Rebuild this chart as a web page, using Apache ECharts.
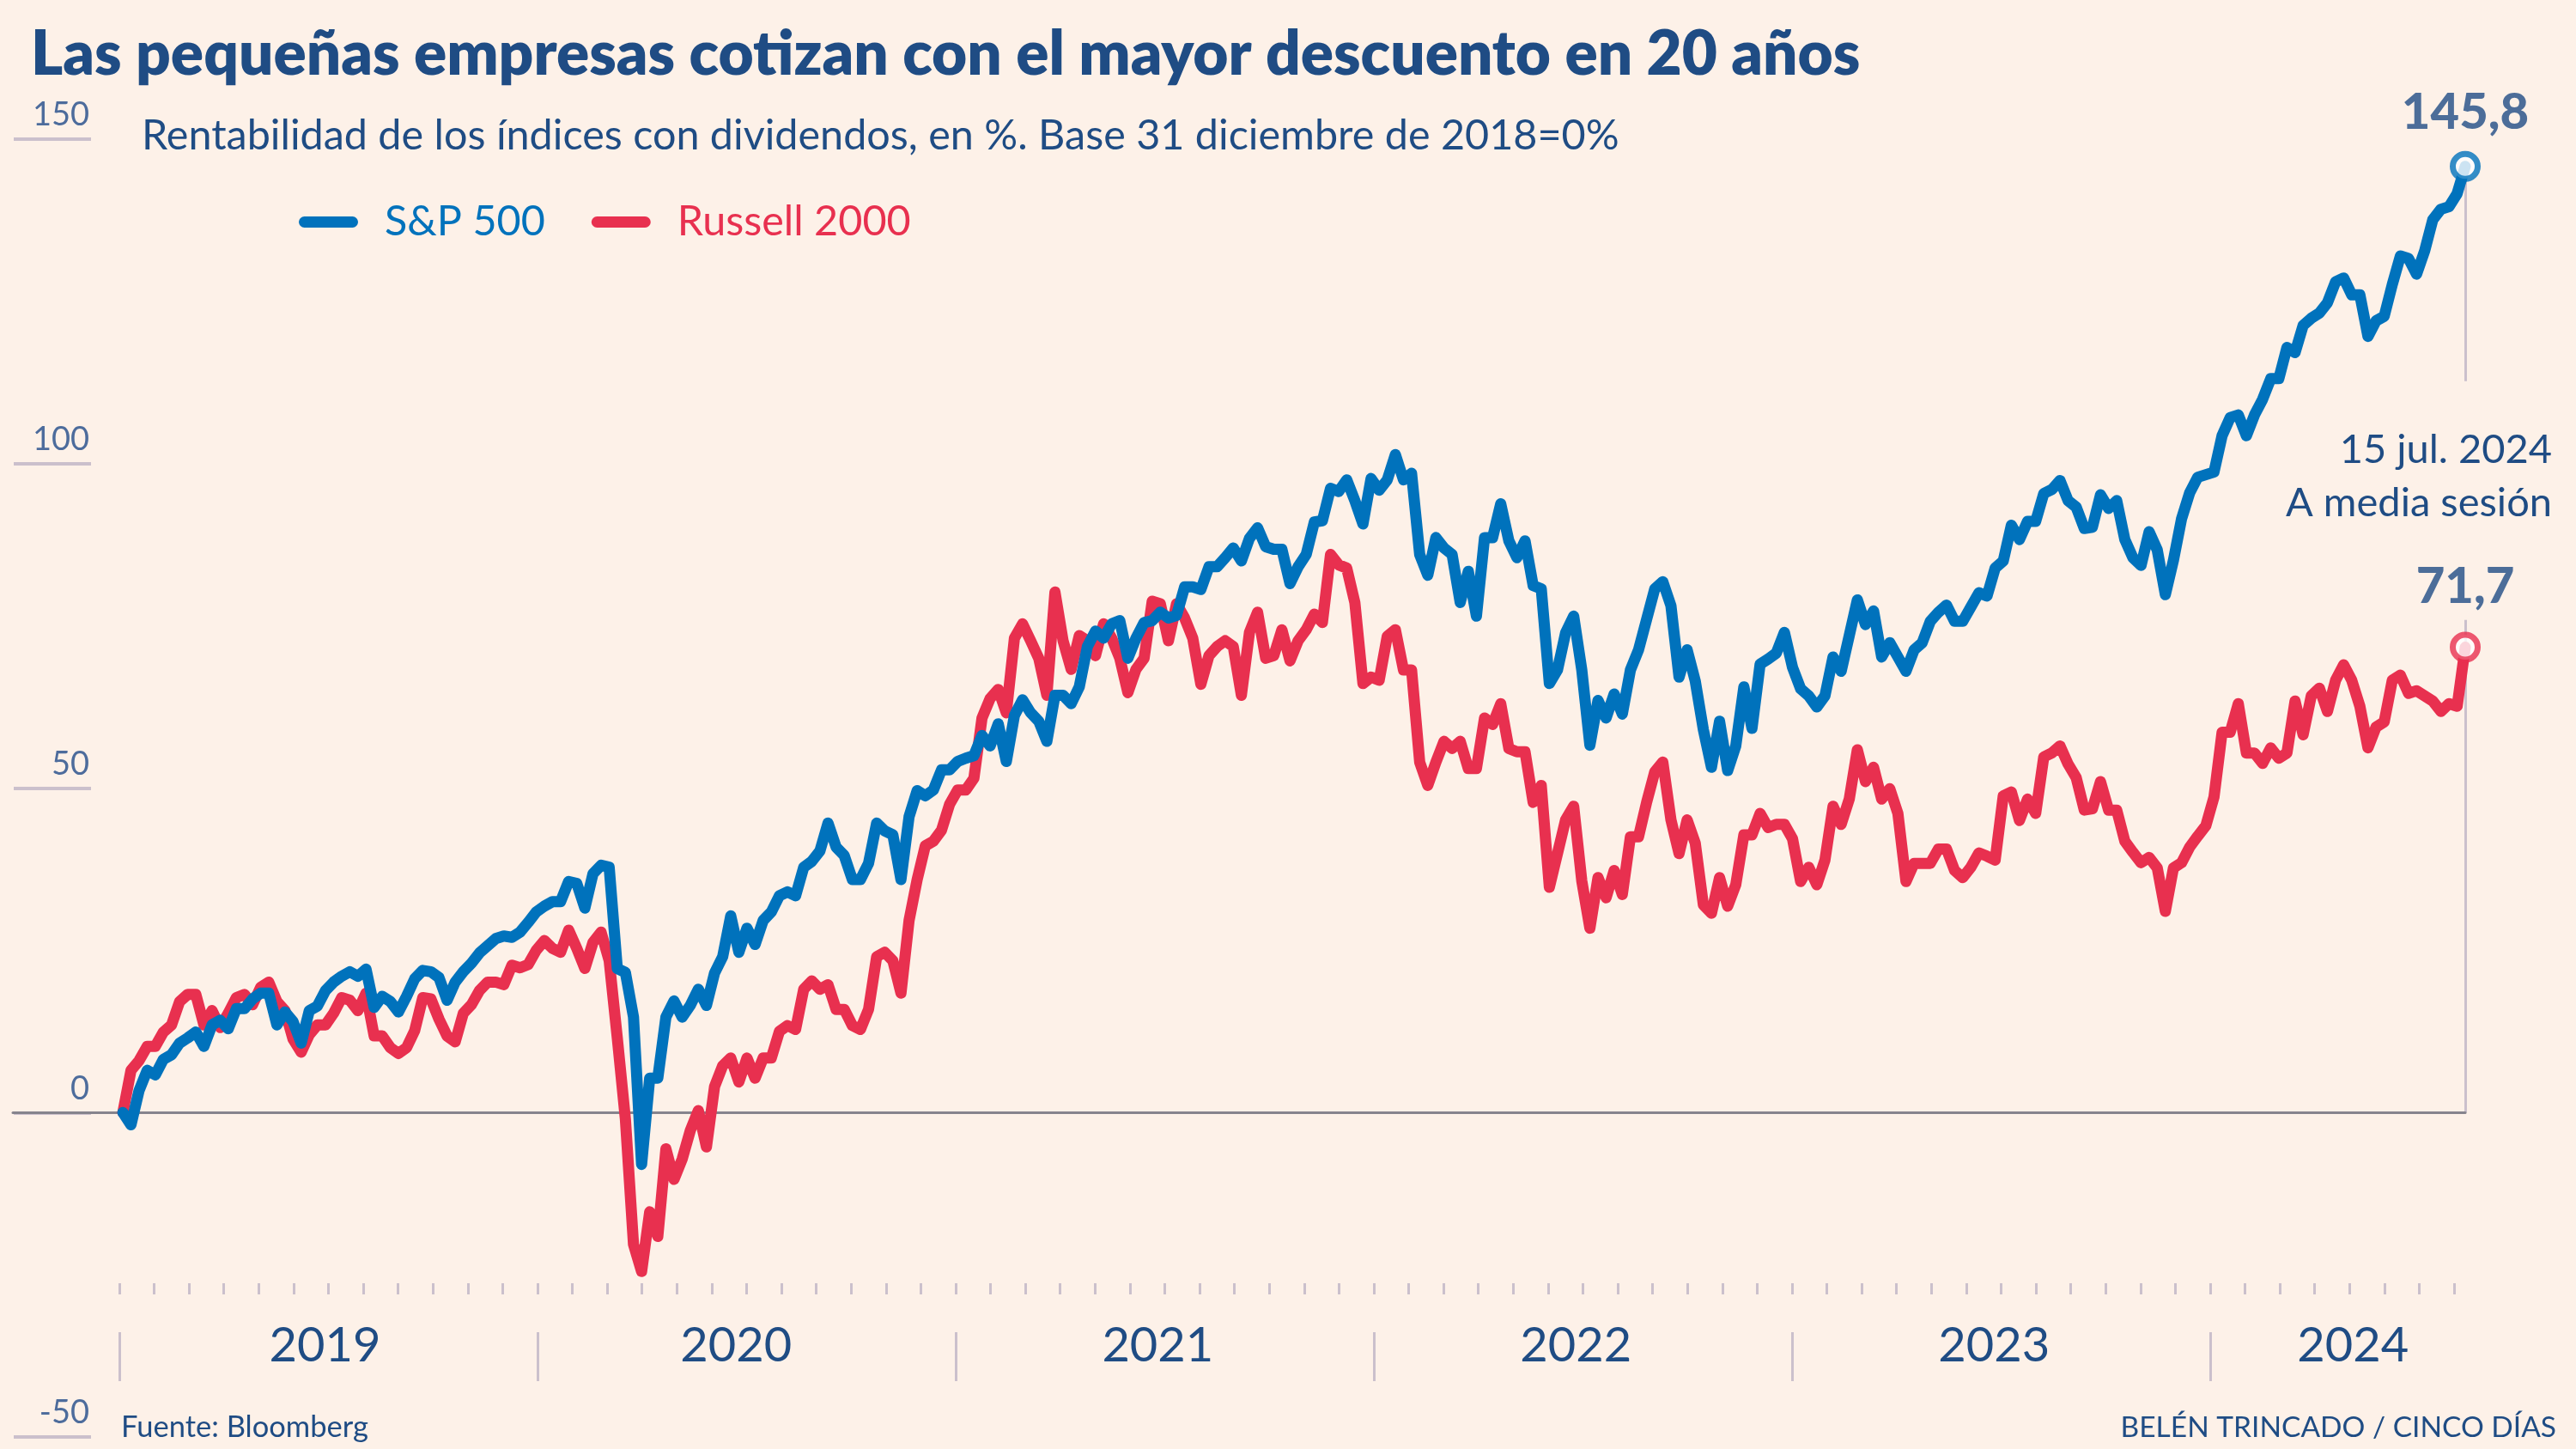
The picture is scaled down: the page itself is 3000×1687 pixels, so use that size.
<!DOCTYPE html>
<html><head><meta charset="utf-8">
<script src="https://cdn.jsdelivr.net/npm/echarts@6/dist/echarts.min.js"></script>
<style>html,body{margin:0;padding:0;background:#fdf1e8}#c{width:3000px;height:1687px}</style>
</head><body><div id="c"></div>
<script>
// ---- data (weekly, from 2018-12-31 to 2024-07-15), % return incl. dividends ----
const startDate = '2018-12-31';
const sp500 = [
0,-1.9,3.4,6.5,5.8,8.2,8.9,10.7,11.5,12.4,
10.2,13.5,14.2,12.9,16.0,16.0,17.5,18.4,18.4,13.5,
15.5,14.0,10.7,15.7,16.4,18.8,20.1,21.0,21.7,21.0,
22.1,16.2,17.9,17.1,15.5,17.9,20.6,21.9,21.7,20.8,
17.3,20.1,21.7,23.0,24.6,25.7,26.8,27.2,27.0,27.8,
29.3,30.9,31.8,32.5,32.5,35.6,35.3,31.5,36.8,38.1,
37.8,22.2,21.6,14.7,-8.0,5.3,5.3,14.7,17.2,14.7,
16.5,19.0,16.5,21.5,24.0,30.3,24.7,28.4,25.9,29.6,
30.9,33.4,34.0,33.4,37.8,38.7,40.3,44.6,40.9,39.6,
35.9,35.9,38.4,44.6,43.4,42.8,35.9,45.6,49.6,48.8,
49.7,52.8,52.8,54.1,54.6,55.0,58.1,56.5,59.9,54.1,
61.2,63.6,61.6,60.3,57.2,64.3,64.3,63.0,65.6,71.8,
74.2,73.1,75.3,75.8,70.0,73.1,75.5,75.8,77.1,76.2,
76.6,81.0,81.0,80.6,84.1,84.1,85.5,87.0,85.0,88.5,
90.1,87.2,86.8,86.8,81.5,84.1,86.0,91.0,91.2,96.2,
95.7,97.5,94.3,90.7,97.7,95.9,97.5,101.4,97.5,98.5,
86.0,82.8,88.6,87.0,86.0,78.6,83.4,76.5,88.6,88.6,
93.8,88.1,85.5,88.1,81.2,80.7,66.1,68.2,73.9,76.5,
68.2,56.6,63.5,60.8,64.5,61.4,68.2,71.3,76.0,80.7,
81.8,78.1,67.1,71.3,66.5,59.0,53.2,60.3,52.7,56.5,
65.6,59.2,69.1,69.9,70.8,74.0,68.6,65.3,64.2,62.5,
64.2,70.2,68.0,73.5,79.0,75.2,77.3,70.2,72.4,70.2,
68.0,71.3,72.4,75.7,77.1,78.2,75.7,75.7,77.9,80.1,
79.6,83.9,85.0,90.5,88.3,91.1,91.1,95.4,96.0,97.4,
94.3,93.3,90.0,90.2,95.2,93.1,94.3,88.3,85.5,84.3,
89.5,86.7,79.8,85.1,91.5,95.5,97.9,98.3,98.7,104.3,
107.1,107.5,104.3,107.5,109.9,113.1,113.1,117.9,117.1,121.3,
122.4,123.2,124.8,128.0,128.6,126.0,126.0,119.6,122.0,122.7,
127.6,132.0,131.6,129.2,132.8,137.6,139.2,139.6,141.6,145.8
];
const russell2000 = [
0,6.5,8.0,10.2,10.2,12.4,13.5,17.1,18.2,18.2,
13.5,15.7,13.1,15.3,17.7,18.2,16.6,19.3,20.1,17.1,
15.7,11.3,9.3,12.0,13.5,13.5,15.3,17.7,17.3,15.7,
18.4,11.8,11.8,10.0,9.1,10.0,12.6,17.7,17.5,14.4,
11.8,10.9,15.3,16.6,18.8,20.1,20.1,19.7,22.7,22.3,
22.8,25.0,26.5,25.3,24.7,28.1,25.3,22.2,26.2,27.8,
23.4,11.5,-1.0,-20.3,-24.5,-15.3,-19.1,-5.6,-10.3,-7.2,
-2.8,0.3,-5.3,4.0,7.2,8.4,4.7,8.4,5.3,8.4,
8.4,12.5,13.4,12.8,19.0,20.3,19.0,19.7,15.9,15.9,
13.4,12.8,15.9,24.0,24.7,23.4,18.4,29.6,35.9,41.1,
41.8,43.5,47.5,49.7,49.7,51.5,60.8,63.8,65.2,61.6,
73.1,75.3,72.7,70.0,64.3,80.2,72.7,68.3,73.5,72.7,
70.4,75.3,73.1,70.0,64.7,68.3,70.0,78.8,78.4,72.7,
78.4,76.2,73.1,66.0,70.4,71.8,72.7,71.8,64.3,74.0,
77.1,70.0,70.4,74.4,69.6,72.7,74.4,76.8,75.5,86.0,
84.4,83.9,78.6,66.1,67.1,66.6,73.4,74.4,68.2,68.2,
54.0,50.4,54.0,57.2,56.1,57.2,53.0,53.0,60.8,59.8,
63.0,56.1,55.6,55.6,47.8,50.4,34.7,39.9,45.1,47.2,
35.7,28.4,36.2,33.1,37.3,33.6,42.5,42.5,47.8,52.5,
54.0,45.1,39.9,45.1,41.5,32.0,30.7,36.2,31.8,35.1,
42.8,42.8,46.1,43.9,44.4,44.4,42.2,35.6,37.8,35.1,
38.9,47.2,44.4,48.3,55.9,51.0,53.2,48.3,49.9,46.1,
35.6,38.4,38.4,38.4,40.6,40.6,37.3,36.2,37.8,40.0,
39.5,38.9,48.8,49.4,45.0,48.3,46.1,54.8,55.4,56.5,
53.7,51.6,46.6,46.8,51.0,46.6,46.6,41.8,40.1,38.5,
39.3,37.7,31.0,37.7,38.5,40.9,42.6,44.2,48.6,58.6,
58.6,63.0,55.4,55.4,53.8,56.2,54.6,55.4,63.4,58.2,
64.2,65.4,61.8,66.6,69.0,66.6,62.6,56.2,59.4,60.2,
66.6,67.4,64.6,65.0,64.2,63.4,61.8,63.0,62.6,71.7
];
const seriesNames = ['S&P 500', 'Russell 2000'];
const yTicks = [-50, 0, 50, 100, 150];
const years = ['2019', '2020', '2021', '2022', '2023', '2024'];
// year label positions along the month axis (months since Jan 2019)
const yearLabelMonths = [5.9, 17.7, 29.8, 41.8, 53.8, 64.1];
const yearTickMonths = [0, 12, 24, 36, 48, 60];
const monthsShown = 67;
const leaderEnds = [112.7, 0];      // where the grey leader lines end (value units)
const leaderStarts = [145.8, 75.9];
const endNote = ['15 jul. 2024', 'A media sesión'];

// ---- build ----
const BLUE = '#0072bc', RED = '#e8304f', NAVY = '#1f4c84', LABEL = '#4d6c9c', GRID = '#cbc0cc';
const FONT = 'Lato';
const dates = [];
(function(){
  const t0 = Date.parse(startDate + 'T00:00:00Z');
  for (let i = 0; i < sp500.length; i++) {
    dates.push(new Date(t0 + i * 7 * 86400000).toISOString().slice(0, 10));
  }
})();
const lastDate = dates[dates.length - 1];
const pair = arr => arr.map((v, i) => [dates[i], v]);
const fmt = v => v.toFixed(1).replace('.', ',');

const chart = echarts.init(document.getElementById('c'), null, {renderer: 'canvas'});
const lastVals = [sp500[sp500.length - 1], russell2000[russell2000.length - 1]];
const colors = [BLUE, RED];
const labelDist = [15, 23];

const option = {
  backgroundColor: '#fdf1e8',
  animation: false,
  textStyle: {fontFamily: FONT},
  title: [
    {text: 'Las pequeñas empresas cotizan con el mayor descuento en 20 años', left: 31, top: 24,
     textStyle: {fontFamily: FONT, fontWeight: 800, fontSize: 71, lineHeight: 71, color: NAVY}},
    {text: 'Rentabilidad de los índices con dividendos, en %. Base 31 diciembre de 2018=0%', left: 160, top: 129,
     textStyle: {fontFamily: FONT, fontWeight: 'normal', fontSize: 48.5, lineHeight: 48, color: NAVY}},
    {text: endNote[0], right: 23, top: 495,
     textStyle: {fontFamily: FONT, fontWeight: 'normal', fontSize: 47, lineHeight: 47, color: NAVY}},
    {text: endNote[1], right: 23, top: 557,
     textStyle: {fontFamily: FONT, fontWeight: 'normal', fontSize: 47, lineHeight: 47, color: NAVY}},
    {text: 'Fuente: Bloomberg', left: 136, top: 1640,
     textStyle: {fontFamily: FONT, fontWeight: 'normal', fontSize: 34.5, lineHeight: 34, color: NAVY}},
    {text: 'BELÉN TRINCADO / CINCO DÍAS', right: 18, top: 1640,
     textStyle: {fontFamily: FONT, fontWeight: 'normal', fontSize: 33.5, lineHeight: 34, color: NAVY}}
  ],
  legend: {
    left: 343, top: 229, itemWidth: 69, itemHeight: 13, itemGap: 54, selectedMode: false,
    icon: 'path://M6.5,0H62.5A6.5,6.5,0,0,1,62.5,13H6.5A6.5,6.5,0,0,1,6.5,0Z',
    data: seriesNames.map((n, i) => ({name: n, textStyle: {color: colors[i]}})),
    textStyle: {fontFamily: FONT, fontSize: 48.5, lineHeight: 48, padding: [0, 0, 0, 26]}
  },
  grid: [
    {left: 15, right: 129, top: 162, bottom: 14},   // data
    {left: 16, width: 90, top: 162, bottom: 14},    // y labels + short gridlines
    {left: 139, width: 2719, top: 120, bottom: 193} // time ticks
  ],
  xAxis: [
    {type: 'time', gridIndex: 0, min: '2018-09-27', max: lastDate, z: 3,
     axisLine: {show: true, onZero: true, lineStyle: {color: '#86848d', width: 3}},
     axisTick: {show: false}, axisLabel: {show: false}, splitLine: {show: false}},
    {type: 'value', gridIndex: 1, min: 0, max: 1, show: false},
    {type: 'value', gridIndex: 2, min: 0, max: monthsShown, interval: 1, position: 'bottom',
     axisLine: {show: false}, axisLabel: {show: false}, splitLine: {show: false},
     axisTick: {show: true, length: 13, lineStyle: {color: GRID, width: 3}}},
    {type: 'value', gridIndex: 2, min: 0, max: monthsShown, position: 'bottom', offset: 57,
     axisLine: {show: false}, splitLine: {show: false},
     axisTick: {show: true, length: 57, customValues: yearTickMonths, lineStyle: {color: GRID, width: 3}},
     axisLabel: {show: true, customValues: yearLabelMonths, margin: 16, verticalAlign: 'middle',
       formatter: v => years[Math.floor(v / 12)] || '',
       fontFamily: FONT, fontSize: 56, color: NAVY}}
  ],
  yAxis: [
    {type: 'value', gridIndex: 0, min: yTicks[0], max: yTicks[yTicks.length - 1], interval: 50, show: false},
    {type: 'value', gridIndex: 1, min: yTicks[0], max: yTicks[yTicks.length - 1], interval: 50, position: 'right', z: 0,
     axisLine: {show: false}, axisTick: {show: false},
     splitLine: {show: true, lineStyle: {color: GRID, width: 4}},
     axisLabel: {show: true, inside: true, margin: 2, verticalAlign: 'bottom', lineHeight: 38, padding: [0, 0, 9, 0],
       fontFamily: FONT, fontSize: 38, color: LABEL, formatter: v => String(v)}},
    {type: 'value', gridIndex: 2, show: false}
  ],
  series: [
    {name: seriesNames[0], type: 'line', xAxisIndex: 0, yAxisIndex: 0, data: pair(sp500), z: 4,
     showSymbol: false, clip: false, color: BLUE,
     lineStyle: {color: BLUE, width: 13, cap: 'round', join: 'round'},
     markLine: {silent: true, symbol: 'none', label: {show: false}, z: 1,
       lineStyle: {color: GRID, width: 3, type: 'solid'},
       data: [[{coord: [lastDate, leaderStarts[0]]}, {coord: [lastDate, leaderEnds[0]]}]]}},
    {name: seriesNames[1], type: 'line', xAxisIndex: 0, yAxisIndex: 0, data: pair(russell2000), z: 3,
     showSymbol: false, clip: false, color: RED,
     lineStyle: {color: RED, width: 13, cap: 'round', join: 'round'},
     markLine: {silent: true, symbol: 'none', label: {show: false}, z: 1,
       lineStyle: {color: GRID, width: 3, type: 'solid'},
       data: [[{coord: [lastDate, leaderStarts[1]]}, {coord: [lastDate, leaderEnds[1]]}]]}},
    {type: 'scatter', xAxisIndex: 0, yAxisIndex: 0, z: 10, clip: false, silent: true,
     data: lastVals.map((v, i) => ({
       value: [lastDate, v], symbol: 'circle', symbolSize: 29,
       itemStyle: {color: '#ffffff', borderColor: colors[i], borderWidth: 7},
       label: {show: true, position: 'top', distance: labelDist[i], formatter: () => fmt(v),
         fontFamily: FONT, fontWeight: 900, fontSize: 58, lineHeight: 58, color: NAVY}
     }))}
  ]
};
chart.setOption(option);
</script></body></html>
